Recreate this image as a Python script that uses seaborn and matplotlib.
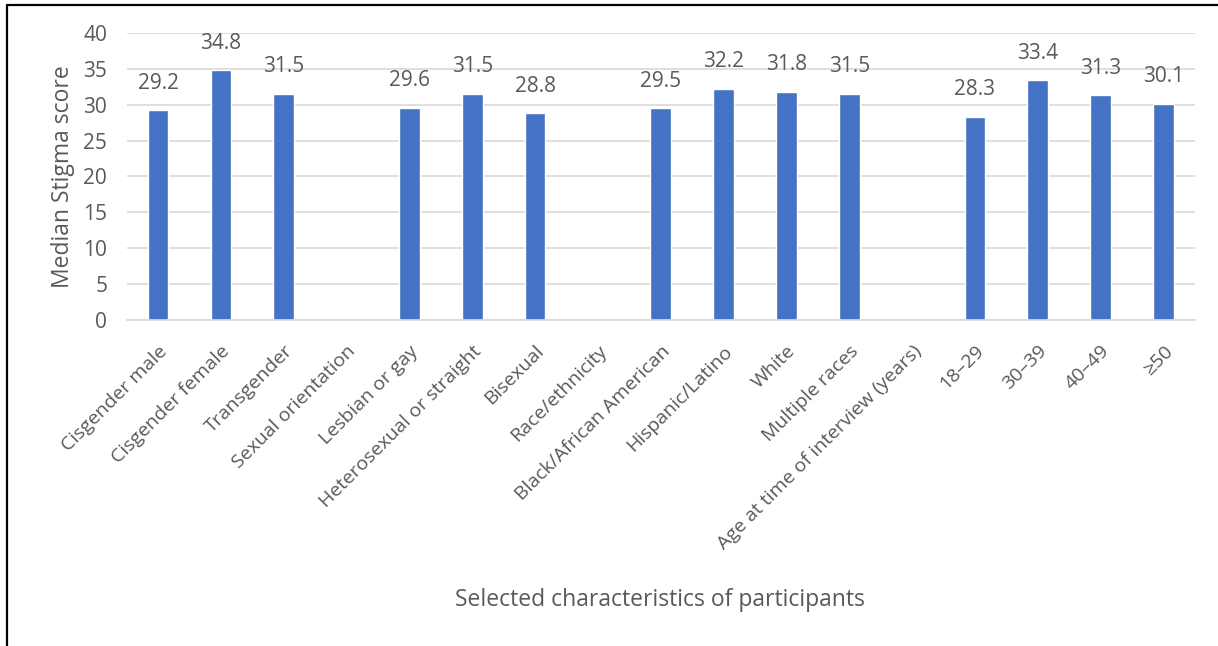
import numpy as np
import pandas as pd
import matplotlib
matplotlib.use("Agg")
import matplotlib.pyplot as plt
import seaborn as sns
from matplotlib.lines import Line2D

categories = [
    "Cisgender male", "Cisgender female", "Transgender",
    "Sexual orientation", "Lesbian or gay", "Heterosexual or straight", "Bisexual",
    "Race/ethnicity", "Black/African American", "Hispanic/Latino", "White", "Multiple races",
    "Age at time of interview (years)", "18\u201329", "30\u201339", "40\u201349", "\u226550",
]
median_scores = [
    29.2, 34.8, 31.5,
    np.nan, 29.6, 31.5, 28.8,
    np.nan, 29.5, 32.2, 31.8, 31.5,
    np.nan, 28.3, 33.4, 31.3, 30.1,
]
y_ticks = [0, 5, 10, 15, 20, 25, 30, 35, 40]

sns.set_theme(style="white")
plt.rcParams["font.family"] = ["Open Sans", "DejaVu Sans"]

TEXT = "#595959"
BAR = "#4472C4"

df = pd.DataFrame({"category": categories, "score": median_scores})

fig = plt.figure(figsize=(12.18, 6.46), dpi=100)
ax = fig.add_axes([0.104, 0.505, 0.877, 0.444])

sns.barplot(data=df, x="category", y="score", color=BAR, width=0.33,
            saturation=1, ax=ax, order=categories)

ax.set_ylim(0, 40)
ax.set_yticks(y_ticks)
ax.set_yticklabels([str(t) for t in y_ticks], fontsize=15, color=TEXT)
ax.set_xticklabels(categories, rotation=45, ha="right", rotation_mode="anchor",
                   fontsize=14, color=TEXT)
ax.tick_params(axis="x", length=0, pad=16)
ax.tick_params(axis="y", length=0, pad=14)
ax.yaxis.grid(True, color="#d9d9d9", linewidth=1.2)
ax.set_axisbelow(True)
for side in ["top", "right", "left"]:
    ax.spines[side].set_visible(False)
ax.spines["bottom"].set_color("#d9d9d9")
ax.spines["bottom"].set_linewidth(1.2)

for cont in ax.containers:
    labels = ["" if np.isnan(v) else f"{v:.1f}" for v in cont.datavalues]
    ax.bar_label(cont, labels=labels, padding=12, fontsize=15, color=TEXT)

ax.set_ylabel("Median Stigma score", fontsize=16.5, color=TEXT, labelpad=6)
ax.set_xlabel("")
fig.text(0.542, 0.071, "Selected characteristics of participants",
         fontsize=16.5, color=TEXT, ha="center", va="center")

# frame lines along the top and left edge
fig.add_artist(Line2D([0.0055, 1.0], [0.9925, 0.9925], transform=fig.transFigure,
                      color="black", linewidth=1.6))
fig.add_artist(Line2D([0.0055, 0.0055], [0.0, 0.9925], transform=fig.transFigure,
                      color="black", linewidth=1.6))

fig.savefig("out.png", dpi=100, facecolor="white")
